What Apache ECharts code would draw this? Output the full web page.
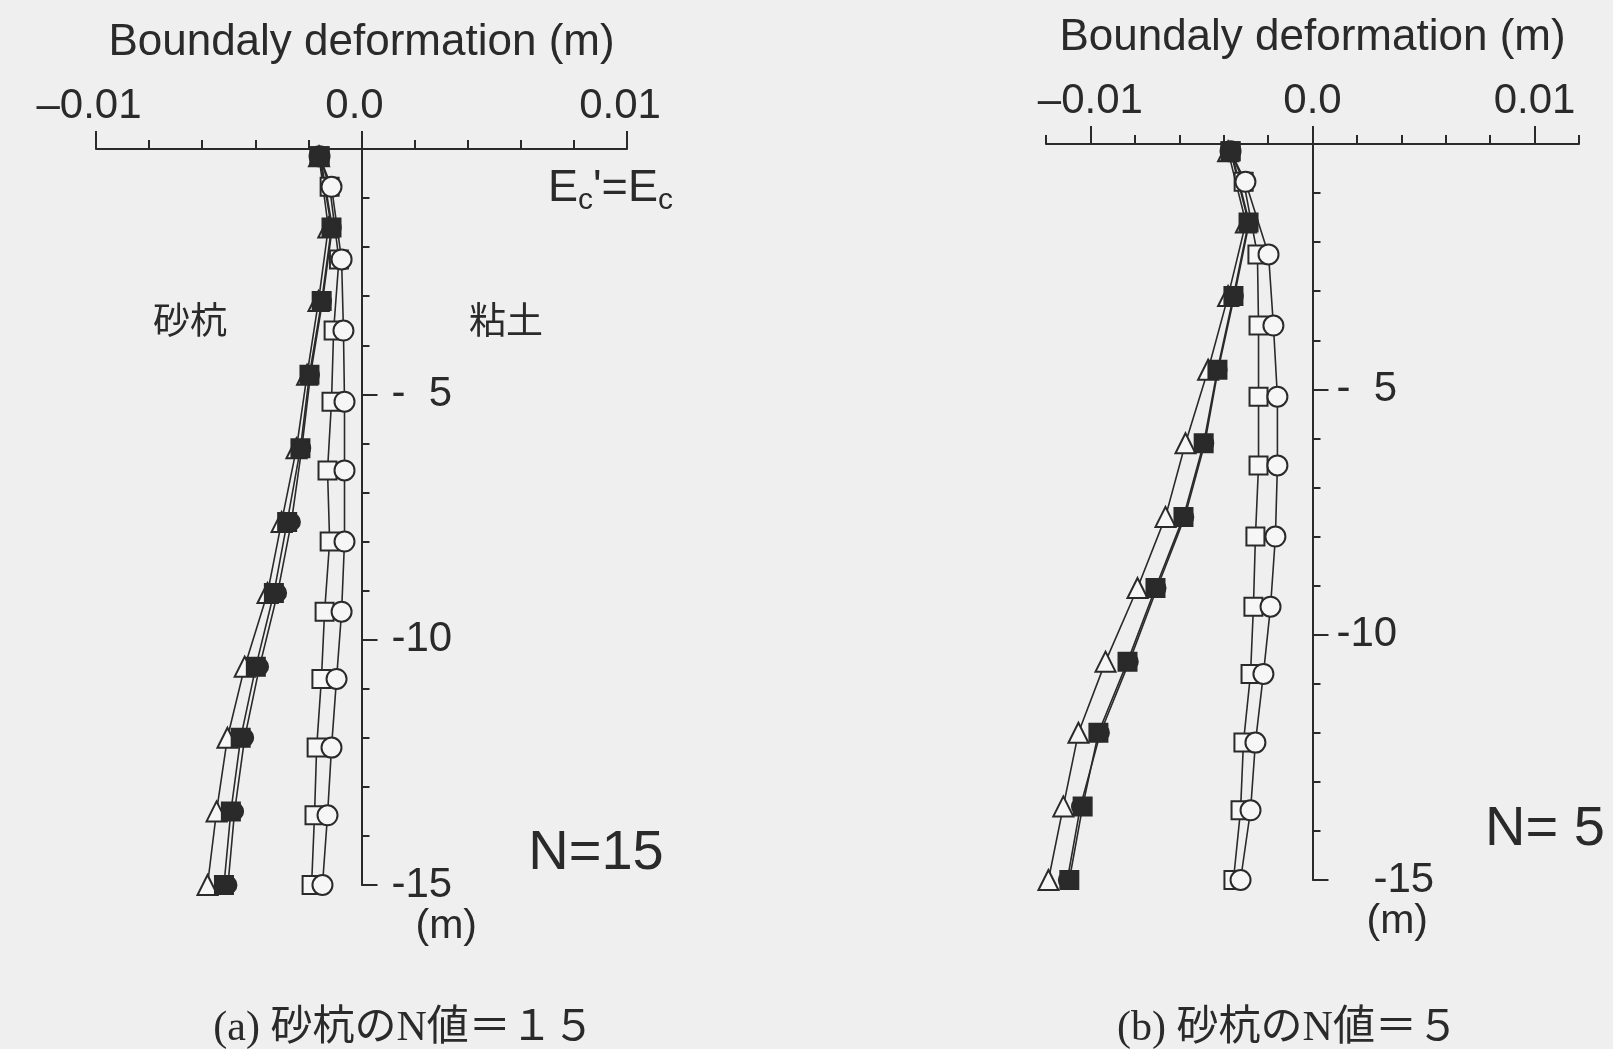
<!DOCTYPE html>
<html>
<head>
<meta charset="utf-8">
<script src="https://cdn.jsdelivr.net/npm/echarts@6/dist/echarts.min.js"></script>
<style>
  html, body { margin: 0; padding: 0; background: #efefef; }
  #chart { width: 1613px; height: 1049px; }
</style>
</head>
<body>
<div id="chart"></div>
<script>
// Node depths (m)
const sandDepth = [-0.15, -1.6, -3.1, -4.6, -6.1, -7.6, -9.05, -10.55, -12.0, -13.5, -15.0];
const clayDepth = [-0.15, -0.77, -2.25, -3.7, -5.15, -6.55, -8.0, -9.43, -10.8, -12.2, -13.58, -15.0];

// (a) sand pile N = 15 : boundary deformation (m)
const aSandTri  = [-0.00160, -0.00125, -0.00162, -0.00205, -0.00245, -0.00301, -0.00354, -0.00440, -0.00505, -0.00546, -0.00580];
const aSandSq   = [-0.00158, -0.00113, -0.00150, -0.00196, -0.00230, -0.00280, -0.00330, -0.00398, -0.00455, -0.00492, -0.00518];
const aSandCirc = [-0.00155, -0.00110, -0.00147, -0.00192, -0.00225, -0.00264, -0.00316, -0.00384, -0.00440, -0.00478, -0.00503];
const aClaySq   = [-0.00158, -0.00120, -0.00085, -0.00105, -0.00113, -0.00128, -0.00120, -0.00139, -0.00151, -0.00169, -0.00177, -0.00188];
const aClayCirc = [-0.00158, -0.00113, -0.00075, -0.00068, -0.00064, -0.00064, -0.00064, -0.00075, -0.00094, -0.00113, -0.00128, -0.00147];

// (b) sand pile N = 5 : boundary deformation (m)
const bSandTri  = [-0.00380, -0.00300, -0.00380, -0.00470, -0.00572, -0.00662, -0.00788, -0.00932, -0.01054, -0.01122, -0.01189];
const bSandSq   = [-0.00369, -0.00288, -0.00356, -0.00428, -0.00490, -0.00581, -0.00707, -0.00833, -0.00964, -0.01035, -0.01095];
const bSandCirc = [-0.00365, -0.00285, -0.00352, -0.00425, -0.00485, -0.00575, -0.00700, -0.00825, -0.00955, -0.01045, -0.01104];
const bClaySq   = [-0.00369, -0.00310, -0.00248, -0.00243, -0.00243, -0.00243, -0.00257, -0.00266, -0.00279, -0.00311, -0.00324, -0.00356];
const bClayCirc = [-0.00369, -0.00302, -0.00198, -0.00176, -0.00158, -0.00158, -0.00167, -0.00189, -0.00221, -0.00257, -0.00279, -0.00324];

// Axis ticks and labels
const aTicks = [-0.01, -0.008, -0.006, -0.004, -0.002, 0, 0.002, 0.004, 0.006, 0.008, 0.01];
const bTicks = [-0.012, -0.01, -0.008, -0.006, -0.004, -0.002, 0, 0.002, 0.004, 0.006, 0.008, 0.01, 0.012];
const xMajorTicks = [-0.01, 0, 0.01];
const xLabelValues = [-0.01, 0, 0.01];
const xLabelTexts = ['\u20130.01', '0.0', '0.01'];
const yLabelValues = [-5, -10, -15];
const aYLabelTexts = ['- \u00a05', '-10', '-15'];
const bYLabelTexts = ['- \u00a05', '-10', '{far|-15}'];

const INK = '#2a2a2a';
const PAPER = '#f6f6f6';
const SANS = '"Liberation Sans", Arial, sans-serif';
const CJK = '"Noto Sans CJK JP", sans-serif';
const SERIF = '"Liberation Serif", "Noto Sans CJK JP", serif';

const gridA = { left: 96, top: 149, width: 531, height: 736 };
const gridB = { left: 1046, top: 144, width: 533, height: 736 };

function pick(values, texts, v) {
  for (let i = 0; i < values.length; i++) {
    if (Math.abs(values[i] - v) < 1e-9) return texts[i];
  }
  return '';
}

function pairs(xs, depths) {
  return xs.map((x, i) => [x, depths[i]]);
}

function xAxes(gridIndex, min, max, ticks, pad) {
  return [{
    gridIndex, type: 'value', position: 'top', min, max,
    name: 'Boundaly deformation (m)', nameLocation: 'middle', nameGap: 84,
    nameTextStyle: { fontFamily: SANS, fontSize: 44, color: INK },
    axisLine: { onZero: false, lineStyle: { color: INK, width: 2 } },
    axisTick: { show: true, customValues: ticks, length: 9, lineStyle: { color: INK, width: 2 } },
    axisLabel: {
      customValues: xLabelValues, margin: 22, fontFamily: SANS, fontSize: 42, color: INK,
      padding: pad, formatter: v => pick(xLabelValues, xLabelTexts, v)
    },
    splitLine: { show: false }
  }, {
    gridIndex, type: 'value', position: 'top', min, max,
    axisLine: { show: false },
    axisTick: { show: true, customValues: xMajorTicks, length: 18, lineStyle: { color: INK, width: 2 } },
    axisLabel: { show: false },
    splitLine: { show: false }
  }];
}

// depth axis drawn on the x = 0 line: shift it in from the grid's right edge
function yAxis(gridIndex, grid, xMin, xMax, labelTexts, margin) {
  const zeroFromRight = grid.width * (xMax - 0) / (xMax - xMin);
  return {
    gridIndex, type: 'value', position: 'right', offset: -zeroFromRight,
    min: -15, max: 0, interval: 5,
    name: '(m)', nameLocation: 'start', nameGap: 20,
    nameTextStyle: { fontFamily: SANS, fontSize: 41, color: INK, align: 'left', verticalAlign: 'top', padding: [0, 0, 0, 54] },
    axisLine: { onZero: false, lineStyle: { color: INK, width: 2 } },
    axisTick: { show: true, length: 16, lineStyle: { color: INK, width: 2 } },
    minorTick: { show: true, splitNumber: 5, length: 8, lineStyle: { color: INK, width: 2 } },
    axisLabel: {
      customValues: yLabelValues, margin, fontFamily: SANS, fontSize: 42, color: INK, align: 'left',
      formatter: v => pick(yLabelValues, labelTexts, v),
      rich: { far: { fontFamily: SANS, fontSize: 42, color: INK, padding: [0, 0, 0, 37] } }
    },
    splitLine: { show: false }, minorSplitLine: { show: false }
  };
}

const lineStyle = { color: INK, width: 1.6 };
function series(name, xIdx, yIdx, xs, depths, symbol, size, filled) {
  return {
    name, type: 'line', xAxisIndex: xIdx, yAxisIndex: yIdx,
    data: pairs(xs, depths), symbol, symbolSize: size, showSymbol: true,
    lineStyle, animation: false,
    itemStyle: { color: filled ? INK : PAPER, borderColor: INK, borderWidth: 2, opacity: 1 },
    emphasis: { disabled: true }
  };
}

const chart = echarts.init(document.getElementById('chart'), null, { renderer: 'canvas' });
chart.setOption({
  backgroundColor: '#efefef',
  animation: false,
  grid: [
    Object.assign({ outerBoundsMode: 'none', containLabel: false }, gridA),
    Object.assign({ outerBoundsMode: 'none', containLabel: false }, gridB)
  ],
  xAxis: [
    ...xAxes(0, -0.01, 0.01, aTicks, [0, 14, 0, 0]),
    ...xAxes(1, -0.012, 0.012, bTicks, [0, 0, 0, 0])
  ],
  yAxis: [
    yAxis(0, gridA, -0.01, 0.01, aYLabelTexts, 30),
    yAxis(1, gridB, -0.012, 0.012, bYLabelTexts, 24)
  ],
  series: [
    series('(a) 粘土 □', 0, 0, aClaySq, clayDepth, 'rect', 18, false),
    series('(a) 粘土 ○', 0, 0, aClayCirc, clayDepth, 'circle', 20, false),
    series('(a) 砂杭 △', 0, 0, aSandTri, sandDepth, 'triangle', 20, false),
    series('(a) 砂杭 ■', 0, 0, aSandSq, sandDepth, 'rect', 18, true),
    series('(a) 砂杭 ●', 0, 0, aSandCirc, sandDepth, 'circle', 17, true),
    series('(b) 粘土 □', 2, 1, bClaySq, clayDepth, 'rect', 18, false),
    series('(b) 粘土 ○', 2, 1, bClayCirc, clayDepth, 'circle', 20, false),
    series('(b) 砂杭 △', 2, 1, bSandTri, sandDepth, 'triangle', 20, false),
    series('(b) 砂杭 ■', 2, 1, bSandSq, sandDepth, 'rect', 18, true),
    series('(b) 砂杭 ●', 2, 1, bSandCirc, sandDepth, 'circle', 17, true)
  ],
  graphic: [
    { type: 'text', x: 190, y: 320, style: { text: '砂杭', fill: INK, fontFamily: CJK, fontSize: 37, align: 'center', verticalAlign: 'middle' } },
    { type: 'text', x: 506, y: 320, style: { text: '粘土', fill: INK, fontFamily: CJK, fontSize: 37, align: 'center', verticalAlign: 'middle' } },
    { type: 'text', x: 548, y: 166, style: {
        text: '{e|E}{s|c}{e|\'=E}{s|c}', fill: INK,
        rich: {
          e: { fontFamily: SANS, fontSize: 45, lineHeight: 46, verticalAlign: 'top', fill: INK },
          s: { fontFamily: SANS, fontSize: 30, lineHeight: 30, verticalAlign: 'top', padding: [20, 0, 0, 0], fill: INK }
        }
      } },
    { type: 'text', x: 596, y: 854, style: { text: 'N=15', fill: INK, fontFamily: SANS, fontSize: 56, align: 'center', verticalAlign: 'middle' } },
    { type: 'text', x: 1545, y: 830, style: { text: 'N= 5', fill: INK, fontFamily: SANS, fontSize: 56, align: 'center', verticalAlign: 'middle' } },
    { type: 'text', x: 404, y: 1029, style: { text: '(a) 砂杭のN値＝１５', fill: INK, fontFamily: SERIF, fontSize: 42, align: 'center', verticalAlign: 'middle' } },
    { type: 'text', x: 1288, y: 1029, style: { text: '(b) 砂杭のN値＝５', fill: INK, fontFamily: SERIF, fontSize: 42, align: 'center', verticalAlign: 'middle' } }
  ]
});
</script>
</body>
</html>
